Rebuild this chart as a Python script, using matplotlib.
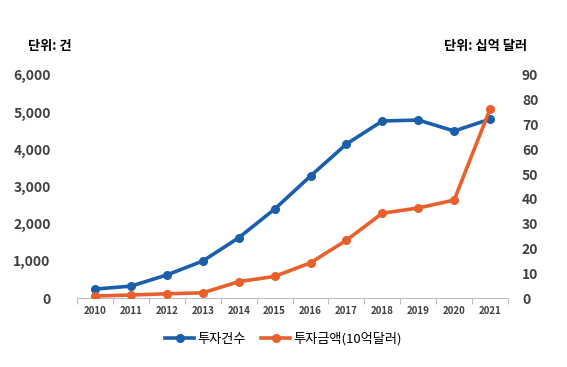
import matplotlib

matplotlib.use("Agg")
import matplotlib.pyplot as plt

plt.rcParams["font.family"] = ["Noto Sans CJK KR", "DejaVu Sans"]

years = ["2010", "2011", "2012", "2013", "2014", "2015",
         "2016", "2017", "2018", "2019", "2020", "2021"]
deal_counts = [240, 320, 620, 995, 1620, 2390, 3280, 4140, 4760, 4785, 4490, 4810]
deal_amounts = [0.8, 1.2, 1.7, 2.1, 6.6, 8.7, 14.2, 23.3, 34.2, 36.3, 39.5, 76.2]
left_ticks = [0, 1000, 2000, 3000, 4000, 5000, 6000]
right_ticks = [0, 10, 20, 30, 40, 50, 60, 70, 80, 90]

blue = "#1B5FAA"
orange = "#E8602C"
tick_color = "#404040"

fig = plt.figure(figsize=(5.67, 3.67), dpi=100)
ax = fig.add_axes([0.136, 0.188, 0.760, 0.608])
ax2 = ax.twinx()

x = list(range(len(years)))
l1, = ax.plot(x, deal_counts, color=blue, lw=2.6, marker="o", ms=5.5, label="투자건수", zorder=3)
l2, = ax2.plot(x, deal_amounts, color=orange, lw=2.6, marker="o", ms=5.5, label="투자금액(10억달러)", zorder=3)

ax.set_xlim(-0.5, len(years) - 0.5)
ax.set_ylim(0, 6000)
ax2.set_ylim(0, 90)

ax.set_yticks(left_ticks)
ax.set_yticklabels([f"{v:,}" for v in left_ticks], fontsize=10, fontweight="bold", color=tick_color)
ax2.set_yticks(right_ticks)
ax2.set_yticklabels([str(v) for v in right_ticks], fontsize=10, fontweight="bold", color=tick_color)
ax.tick_params(axis="y", length=0, pad=19)
ax2.tick_params(axis="y", length=0, pad=10)

# category labels in the middle, tick marks on the boundaries
ax.set_xticks(x)
ax.set_xticklabels(years, fontsize=7, fontweight="bold", color=tick_color)
ax.set_xticks([i - 0.5 for i in range(len(years) + 1)], minor=True)
ax.tick_params(axis="x", which="major", length=0, pad=6)
ax.tick_params(axis="x", which="minor", length=4, color="#BFBFBF", width=0.8)

for a in (ax, ax2):
    for side in ("top", "left", "right"):
        a.spines[side].set_visible(False)
ax.spines["bottom"].set_color("#BFBFBF")
ax.spines["bottom"].set_linewidth(0.8)
ax2.spines["bottom"].set_visible(False)

fig.text(28 / 567, 1 - 46 / 367, "단위: 건", fontsize=9.5, fontweight="bold", va="center", ha="left")
fig.text(527 / 567, 1 - 46 / 367, "단위: 십억 달러", fontsize=9.5, fontweight="bold", va="center", ha="right")

fig.legend(handles=[l1, l2], loc="center", bbox_to_anchor=(0.50, 1 - 339 / 367), ncol=2,
           frameon=False, handlelength=2.2, columnspacing=1.2, handletextpad=0.2,
           prop={"weight": "medium", "size": 9.5})

fig.savefig("out.png", dpi=100)
